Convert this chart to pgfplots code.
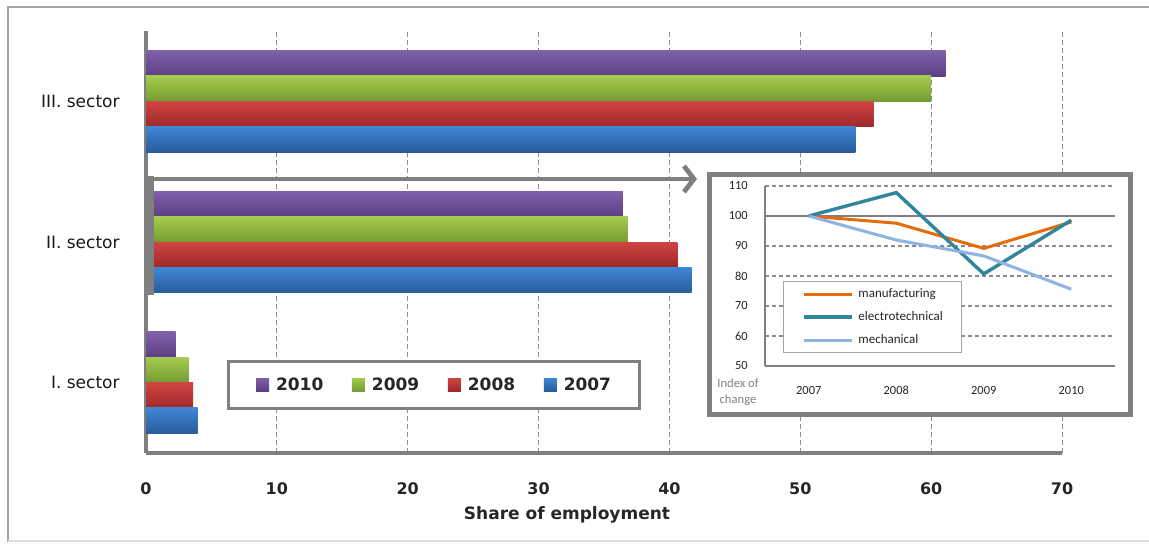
\documentclass[border=0pt]{standalone}
\usepackage{fontspec}
\setmainfont{DejaVu Sans}
\newfontfamily\carl{Carlito}
\usepackage{pgfplots}
\pgfplotsset{compat=1.18}
\usetikzlibrary{arrows.meta}
\definecolor{axgray}{HTML}{7F7F7F}
\definecolor{gridgray}{HTML}{8C8C8C}
\definecolor{framegray}{HTML}{A6A6A6}
\definecolor{lightframe}{HTML}{DDDDDD}
\definecolor{purT}{HTML}{7F60AA}\definecolor{purB}{HTML}{5C3F84}
\definecolor{grnT}{HTML}{A6CB4D}\definecolor{grnB}{HTML}{749B32}
\definecolor{redT}{HTML}{D04443}\definecolor{redB}{HTML}{9E2929}
\definecolor{bluT}{HTML}{3F86D5}\definecolor{bluB}{HTML}{295C9C}
\definecolor{cOrange}{HTML}{E46C0A}
\definecolor{cTeal}{HTML}{31859C}
\definecolor{cLight}{HTML}{8DB4E2}
\pgfplotsset{
  mybar/.style={xbar, bar width=12.7pt, draw=none,
    legend image code/.code={\fill[##1] (0pt,-3.25pt) rectangle (6.5pt,3.25pt);}},
  s2010/.style={mybar, bar shift=19pt, top color=purT, bottom color=purB},
  s2009/.style={mybar, bar shift=6.35pt, top color=grnT, bottom color=grnB},
  s2008/.style={mybar, bar shift=-6.35pt, top color=redT, bottom color=redB},
  s2007/.style={mybar, bar shift=-19pt, top color=bluT, bottom color=bluB},
}
\begin{document}
\begin{tikzpicture}
\useasboundingbox (0,0) rectangle (574.5pt,271.5pt);
\fill[white] (0,0) rectangle (574.5pt,271.5pt);
\draw[framegray, line width=0.6pt] (4pt,0.5pt) -- (4pt,268pt) -- (574.5pt,268pt);
\draw[lightframe, line width=0.6pt] (4pt,1pt) -- (574.5pt,1pt);

\begin{axis}[
  at={(73pt,45pt)}, anchor=south west, scale only axis,
  width=458pt, height=211pt,
  xmin=0, xmax=70, ymin=-0.5, ymax=2.5,
  xtick={0,10,...,70}, ytick={0,1,2},
  yticklabels={I. sector, II. sector, III. sector},
  xmajorgrids,
  major grid style={draw=gridgray, line width=0.5pt, dash pattern=on 2.5pt off 1.5pt},
  axis x line*=bottom, axis y line*=left,
  axis line style={-, draw=axgray, line width=2.2pt},
  every outer x axis line/.append style={-},
  every outer y axis line/.append style={-},
  major tick length=0pt,
  /pgf/number format/assume math mode=true,
  xticklabel style={font=\bfseries\fontsize{8}{9}\selectfont, anchor=center, yshift=-18pt, text=black!85},
  yticklabel style={font=\fontsize{8.5}{9}\selectfont, anchor=east, inner sep=0pt, xshift=-13pt, text=black!90},
  xlabel={Share of employment},
  xlabel style={font=\bfseries\fontsize{8.5}{10}\selectfont, at={(axis description cs:0.4596,0)}, anchor=center, yshift=-31pt, text=black!85},
  legend columns=4,
  legend style={at={(0.3139,0.1623)}, anchor=center, draw=axgray, line width=1.5pt, fill=white,
    inner xsep=14pt, inner ysep=8.5pt,
    font=\bfseries\fontsize{8.5}{10}\selectfont, text=black!85,
    nodes={inner sep=0pt, text height=6.3pt, text depth=0pt},
    /tikz/every odd column/.style={column sep=3.5pt},
    /tikz/every even column/.style={column sep=14.3pt}},
]
\addplot[s2010] coordinates {(2.27,0)};
\addlegendentry{2010}
\addplot[s2010, forget plot] coordinates {(36.45,1)};
\addplot[s2010, forget plot] coordinates {(61.1,2)};
\addplot[s2009] coordinates {(3.23,0)};
\addlegendentry{2009}
\addplot[s2009, forget plot] coordinates {(36.8,1)};
\addplot[s2009, forget plot] coordinates {(60.0,2)};
\addplot[s2008] coordinates {(3.6,0)};
\addlegendentry{2008}
\addplot[s2008, forget plot] coordinates {(40.6,1)};
\addplot[s2008, forget plot] coordinates {(55.6,2)};
\addplot[s2007] coordinates {(3.95,0)};
\addlegendentry{2007}
\addplot[s2007, forget plot] coordinates {(41.7,1)};
\addplot[s2007, forget plot] coordinates {(54.2,2)};
\end{axis}

% bracket and arrow pointing to the inset
\draw[axgray, line width=4.4pt] (74.6pt,183.5pt) -- (74.6pt,124pt);
\draw[axgray, line width=2.4pt, -{Straight Barb[length=5pt, width=13pt]}] (72pt,182pt) -- (348.5pt,182pt);

% inset frame
\draw[axgray, line width=2.5pt, fill=white] (354.75pt,64.25pt) rectangle (565.25pt,184.25pt);

\begin{axis}[
  at={(382.5pt,88.5pt)}, anchor=south west, scale only axis,
  width=175pt, height=90pt,
  xmin=-0.5, xmax=3.5, ymin=50, ymax=110,
  xtick={0,1,2,3}, xticklabels={2007,2008,2009,2010},
  ytick={50,60,70,80,90,110},
  extra y ticks={100},
  extra y tick style={grid=major, major grid style={solid, draw=axgray, line width=1.4pt}},
  ymajorgrids,
  major grid style={draw=gridgray, line width=0.6pt, dash pattern=on 2pt off 1.5pt},
  axis x line*=bottom, axis y line*=left,
  axis line style={-, draw=axgray, line width=1.3pt},
  every outer x axis line/.append style={-},
  every outer y axis line/.append style={-},
  major tick length=0pt,
  /pgf/number format/assume math mode=true,
  tick label style={font=\carl\fontsize{6.2}{7}\selectfont, text=black!85},
  xticklabel style={anchor=center, yshift=-12pt, text height=4.2pt, text depth=0pt},
  yticklabel style={anchor=east, inner sep=0pt, xshift=-8.5pt},
  legend style={at={(0.307,0.272)}, anchor=center, draw=gray!70, line width=0.5pt, fill=white,
    inner xsep=9.5pt, inner ysep=3pt, row sep=5.4pt,
    font=\carl\fontsize{6.5}{7}\selectfont, text=black!85,
    nodes={inner sep=0pt, text height=4.6pt, text depth=1.5pt},
    cells={anchor=west},
    /tikz/every odd column/.style={column sep=2.5pt}},
  legend image code/.code={\draw[#1] (0pt,0pt) -- (24pt,0pt);},
]
\addplot[cOrange, line width=1.5pt] coordinates {(0,100) (1,97.6) (2,89.2) (3,98)};
\addlegendentry{manufacturing}
\addplot[cTeal, line width=1.7pt] coordinates {(0,100) (1,107.8) (2,80.7) (3,98.6)};
\addlegendentry{electrotechnical}
\addplot[cLight, line width=1.5pt] coordinates {(0,100) (1,92) (2,86.7) (3,75.6)};
\addlegendentry{mechanical}
\end{axis}

\node[font=\carl\fontsize{6.3}{8}\selectfont, text=gray, align=center] at (369pt,75.5pt) {Index of\\change};
\end{tikzpicture}
\end{document}
